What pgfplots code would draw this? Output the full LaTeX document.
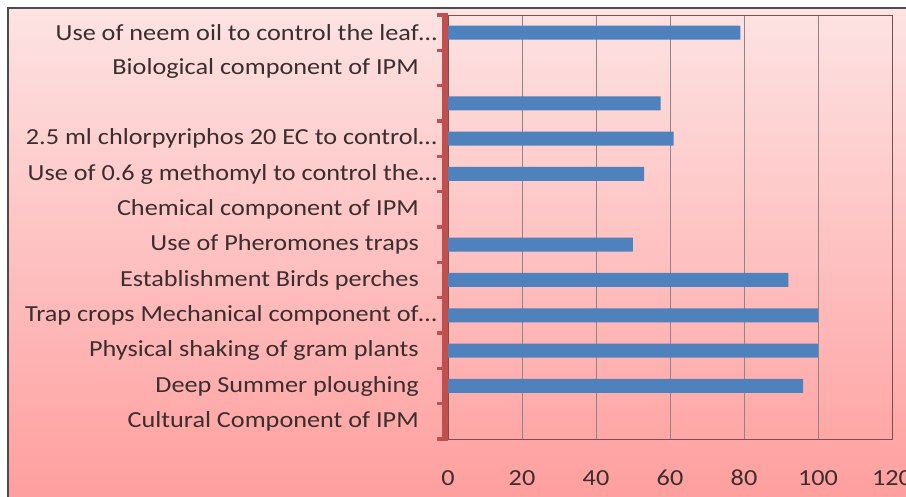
\documentclass[border=0pt]{standalone}
\usepackage{pgfplots}
\pgfplotsset{compat=1.18}
\usepackage{fontspec}
\setmainfont{Carlito}[FakeStretch=1.14]
\definecolor{barblue}{HTML}{4F81BD}
\definecolor{axred}{HTML}{C0504D}
\definecolor{gridc}{HTML}{8E8686}
\definecolor{txt}{HTML}{3A2E2E}
\definecolor{bgtop}{RGB}{253,227,227}
\definecolor{bgbot}{RGB}{255,158,158}
\begin{document}
\begin{tikzpicture}[x=1pt,y=1pt]
\useasboundingbox (0,0) rectangle (906,497);
\clip (0,0) rectangle (906,497);
\fill[white] (0,0) rectangle (906,497);
\shade[top color=bgtop, bottom color=bgbot] (8,-5) rectangle (915,489);
\draw[line width=1.6pt, black!70] (8,-5) -- (8,489) -- (915,489);
\begin{axis}[
  at={(448pt,58pt)}, anchor=south west,
  scale only axis, width=444pt, height=424pt,
  clip=false,
  xbar, bar width=14pt,
  xmin=0, xmax=120, ymin=-0.5, ymax=11.5,
  xtick={0,20,...,120},
  ytick={-0.5,0.5,...,11.5}, yticklabels={},
  extra y ticks={0,...,11},
  extra y tick labels={
    Cultural Component of IPM,
    Deep Summer ploughing,
    Physical shaking of gram plants,
    Trap crops Mechanical component of\rlap{…},
    Establishment Birds perches,
    Use of Pheromones traps,
    Chemical component of IPM,
    Use of 0.6 g methomyl to control the\rlap{…},
    2.5 ml chlorpyriphos 20 EC to control\rlap{…},
    {},
    Biological component of IPM,
    Use of neem oil to control the leaf\rlap{…}},
  extra y tick style={major tick length=0pt, tick style={draw=none}},
  ytick pos=left, xtick pos=bottom,
  tick align=outside,
  major tick length=11pt,
  ytick style={axred, line width=3.5pt},
  xtick style={draw=none},
  xmajorgrids,
  major grid style={gridc, line width=0.8pt},
  axis line style={draw=black!40!axred!60!gray, line width=0.8pt},
  /pgf/number format/assume math mode=true,
  tick label style={font=\fontsize{23}{26}\selectfont, text=txt},
  yticklabel style={inner sep=0pt, anchor=east, xshift=-29pt},
  xticklabel style={inner sep=0pt, anchor=north, yshift=-20pt},
]
\addplot[fill=barblue, draw=none] coordinates {
  (0,0) (96,1) (100,2) (100,3) (92,4) (50,5) (0,6) (53,7) (61,8) (57.5,9) (0,10) (79,11)};
\draw[axred, line width=6pt] ([xshift=-3pt,yshift=-2pt]axis cs:0,-0.5) -- ([xshift=-3pt,yshift=2pt]axis cs:0,11.5);
\end{axis}
\end{tikzpicture}
\end{document}
